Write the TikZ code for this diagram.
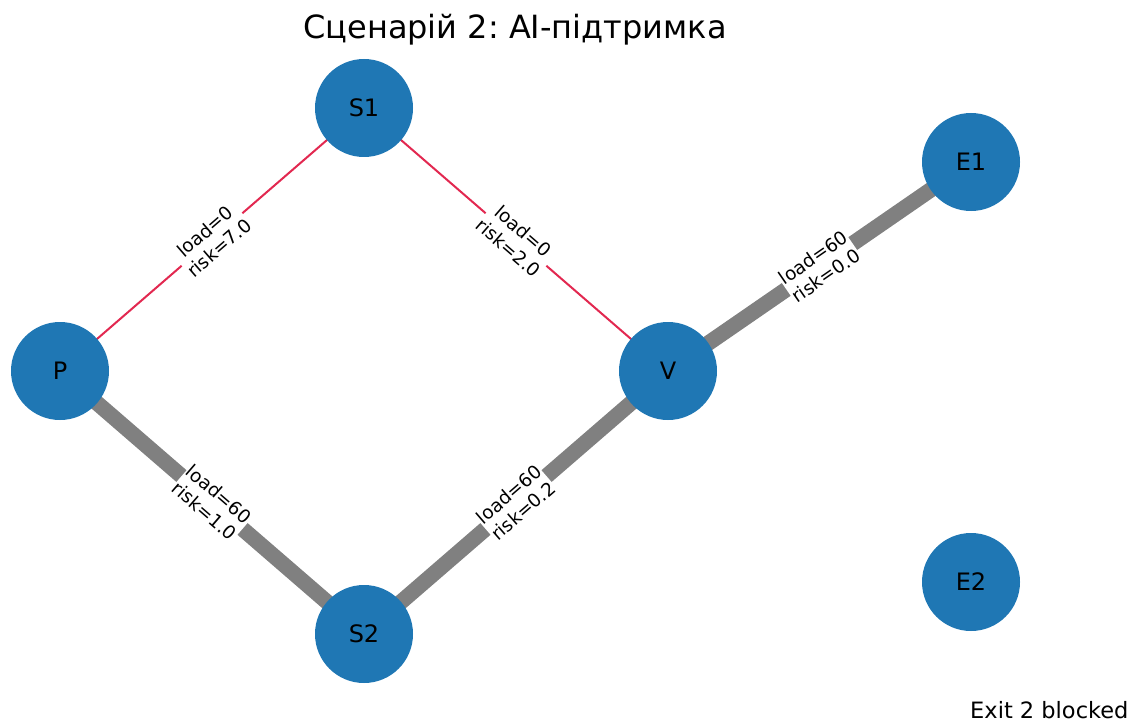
\documentclass[tikz,border=0pt]{standalone}
\usepackage{fontspec}
\setmainfont{DejaVu Sans}
\frenchspacing
\definecolor{nxblue}{HTML}{1F77B4}
\definecolor{redge}{RGB}{226,40,80}
\definecolor{gedge}{HTML}{808080}
\tikzset{
  vert/.style={circle, fill=nxblue, minimum size=98pt, inner sep=0pt, font=\fontsize{24}{26}\selectfont},
  thin edge/.style={draw=redge, line width=2pt},
  thick edge/.style={draw=gedge, line width=15.5pt},
  elabel/.style={fill=white, inner sep=1pt, align=center, font=\fontsize{18.5}{22}\selectfont, sloped, midway}
}
\begin{document}
\begin{tikzpicture}[x=1pt,y=-1pt]
\useasboundingbox (0,0) rectangle (1134,722);
\node (title) at (515,30) {\fontsize{32}{34}\selectfont Сценарій 2: AI-підтримка};
\node[anchor=east] (exit) at (1132,710) {\fontsize{22.5}{24}\selectfont Exit 2 blocked};
\coordinate (cP) at (60,371);
\coordinate (cS1) at (364,108);
\coordinate (cV) at (668,371);
\coordinate (cE1) at (971,162);
\coordinate (cE2) at (971,582);
\coordinate (cS2) at (364,634);
\path[thin edge] (cP) -- (cS1) node[elabel] {load=0\\risk=7.0};
\path[thin edge] (cS1) -- (cV) node[elabel] {load=0\\risk=2.0};
\path[thick edge] (cV) -- (cE1) node[elabel] {load=60\\risk=0.0};
\path[thick edge] (cP) -- (cS2) node[elabel] {load=60\\risk=1.0};
\path[thick edge] (cS2) -- (cV) node[elabel] {load=60\\risk=0.2};
\node[vert] (P) at (cP) {P};
\node[vert] (S1) at (cS1) {S1};
\node[vert] (V) at (cV) {V};
\node[vert] (E1) at (cE1) {E1};
\node[vert] (E2) at (cE2) {E2};
\node[vert] (S2) at (cS2) {S2};
\end{tikzpicture}
\end{document}
